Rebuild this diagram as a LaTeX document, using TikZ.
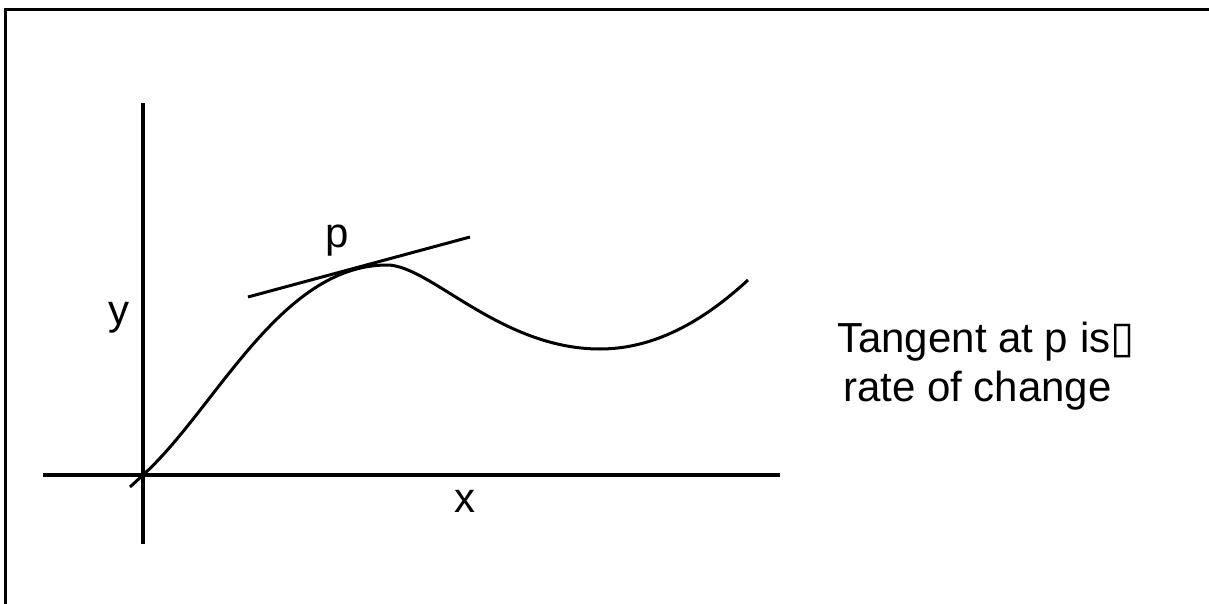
\documentclass[tikz,border=0pt]{standalone}
\usepackage{fontspec}
\setmainfont{Liberation Sans}
\newfontfamily\symfont{DejaVu Sans}
\begin{document}
\begin{tikzpicture}[x=1pt,y=-1pt,
  frameline/.style={line width=3pt,black},
  axisline/.style={line width=4pt,black},
  curveline/.style={line width=3pt,black,line join=round},
  lbl/.style={inner sep=0pt,font=\fontsize{42}{44}\selectfont},
  txt/.style={inner sep=0pt,anchor=base west,font=\fontsize{42}{44}\selectfont}]
\useasboundingbox (0,0) rectangle (1209,604);
% frame (top and left edges only)
\coordinate (ftr) at (1209,9.5);
\coordinate (ftl) at (5.3,9.5);
\coordinate (fbl) at (5.3,604);
\draw[frameline] (ftr) -- (ftl) -- (fbl);
% axes
\coordinate (yb) at (143,544);
\coordinate (yt) at (143,103);
\coordinate (xl) at (43,475);
\coordinate (xr) at (780,475);
\draw[axisline] (yb) -- (yt);
\draw[axisline] (xl) -- (xr);
% curve
\coordinate (c0) at (130,487);
\coordinate (c1) at (143,475);
\coordinate (c2) at (387,265);
\coordinate (c3) at (600,349);
\coordinate (c4) at (748,280);
\draw[curveline] (c0) -- (c1)
  .. controls (215,410) and (280,265) .. (c2)
  .. controls (430,265) and (500,349) .. (c3)
  .. controls (660,349) and (710,315) .. (c4);
% tangent
\coordinate (ta) at (248,297);
\coordinate (tb) at (470,237);
\draw[curveline] (ta) -- (tb);
% labels
\node[lbl,anchor=base] (p) at (337,247) {p};
\node[lbl,anchor=base] (y) at (119,324) {y};
\node[lbl,anchor=base] (x) at (465,512) {x};
\node[txt] (t1) at (837,352) {Tangent at p is{\symfont\fontsize{44}{44}\selectfont ▯}};
\node[txt] (t2) at (843,401) {rate of change};
\end{tikzpicture}
\end{document}
